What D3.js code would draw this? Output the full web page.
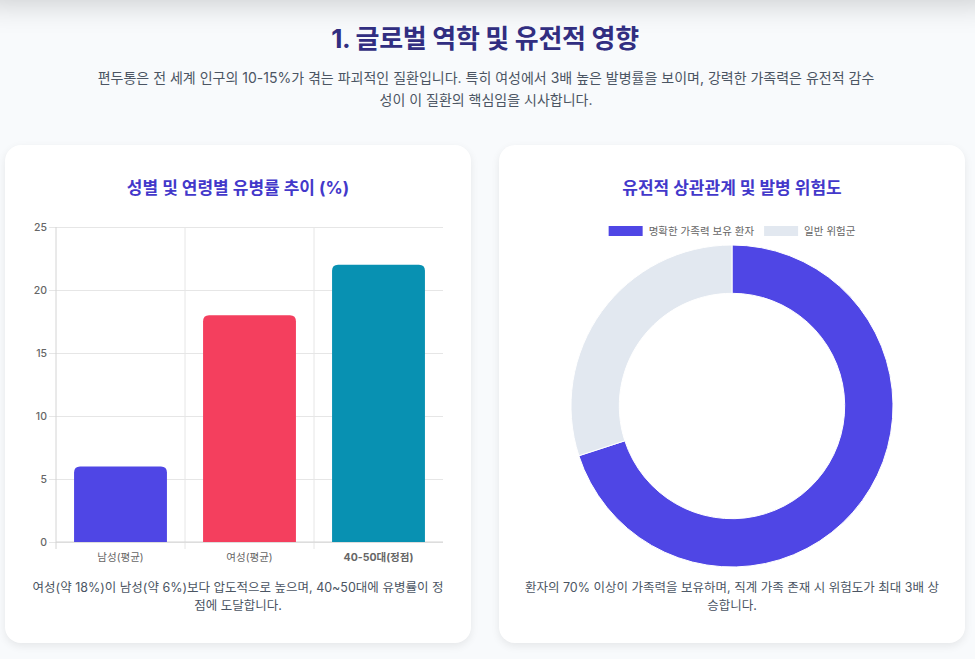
<!DOCTYPE html>
<html lang="ko">
<head>
<meta charset="utf-8">
<script src="https://cdn.jsdelivr.net/npm/d3@7"></script>
<style>
  html, body { margin: 0; padding: 0; }
  body {
    width: 975px; height: 659px; overflow: hidden; position: relative;
    background: #f8fafc;
    font-family: Inter, "Noto Sans CJK KR", "Noto Sans", sans-serif;
  }
  .topbar {
    position: absolute; left: -20px; top: -60px; width: 1015px; height: 60px;
    background: #fff; box-shadow: 0 4px 30px rgba(0,0,0,0.18);
  }
  h1 {
    position: absolute; left: 0; width: 970px; top: 18px; margin: 0;
    text-align: center; font-size: 26px; font-weight: 700; color: #312e81;
    letter-spacing: -0.3px;
  }
  .desc {
    position: absolute; left: 95px; width: 782px; top: 67px; margin: 0;
    text-align: center; font-size: 14px; line-height: 22px; color: #4b5563;
    word-break: break-all;
  }
  .card {
    position: absolute; top: 145px; width: 466px; height: 498px;
    background: #fff; border-radius: 16px;
    box-shadow: 0 3px 8px rgba(0,0,0,0.08);
  }
  .card h2 {
    position: absolute; left: 0; width: 100%; top: 29px; margin: 0;
    text-align: center; font-size: 17px; font-weight: 700; color: #4338ca;
  }
  .card svg { position: absolute; left: 0; top: 0; }
  .card .cap {
    position: absolute; left: 25px; width: 416px; top: 434px; margin: 0;
    text-align: center; font-size: 12.5px; line-height: 18px; color: #4b5563;
    word-break: break-all;
  }
</style>
</head>
<body>
<div class="topbar"></div>
<h1>1. 글로벌 역학 및 유전적 영향</h1>
<p class="desc">편두통은 전 세계 인구의 10-15%가 겪는 파괴적인 질환입니다. 특히 여성에서 3배 높은 발병률을 보이며, 강력한 가족력은 유전적 감수성이 이 질환의 핵심임을 시사합니다.</p>

<div class="card" id="barCard" style="left:5px">
  <h2>성별 및 연령별 유병률 추이 (%)</h2>
  <p class="cap">여성(약 18%)이 남성(약 6%)보다 압도적으로 높으며, 40~50대에 유병률이 정점에 도달합니다.</p>
</div>
<div class="card" id="pieCard" style="left:499px">
  <h2>유전적 상관관계 및 발병 위험도</h2>
  <p class="cap">환자의 70% 이상이 가족력을 보유하며, 직계 가족 존재 시 위험도가 최대 3배 상승합니다.</p>
</div>

<script>
// 막대 차트 데이터
const barLabels = ['남성(평균)', '여성(평균)', '40-50대(정점)'];
const barValues = [6, 18, 22];
const barColors = ['#4f46e5', '#f43f5e', '#0891b2'];
const yTicks = [0, 5, 10, 15, 20, 25];

// 도넛 차트 데이터
const pieLabels = ['명확한 가족력 보유 환자', '일반 위험군'];
const pieValues = [70, 30];
const pieColors = ['#4f46e5', '#e2e8f0'];

const W = 466, H = 498;

// ---- 막대 차트 ----
(function drawBar() {
  const m = { left: 51, right: 28, top: 82, bottom: 101 };
  const svg = d3.select('#barCard').append('svg').attr('width', W).attr('height', H);
  const g = svg.append('g').attr('transform', `translate(${m.left},${m.top})`);
  const iw = W - m.left - m.right, ih = H - m.top - m.bottom;

  const x = d3.scaleBand().domain(barLabels).range([0, iw]).paddingInner(0).paddingOuter(0);
  const y = d3.scaleLinear().domain([0, 25]).range([ih, 0]);

  // 가로 격자 + y축
  const yAxis = d3.axisLeft(y).tickValues(yTicks).tickSize(-iw).tickPadding(9);
  const yG = g.append('g').call(yAxis);
  yG.select('.domain').remove();
  yG.selectAll('.tick line').attr('stroke', '#e6e6e6').attr('x1', -7);
  yG.selectAll('.tick text').attr('fill', '#666').attr('font-size', 10.5).attr('font-weight', 500)
    .attr('font-family', 'Inter, "Noto Sans CJK KR", sans-serif');

  // 세로 격자 (카테고리 경계)
  const edges = barLabels.map(d => x(d));
  g.selectAll('.vgrid').data(edges).enter().append('line')
    .attr('x1', d => d).attr('x2', d => d)
    .attr('y1', 0).attr('y2', ih + 7)
    .attr('stroke', d => d === 0 ? '#d4d4d4' : '#e6e6e6');
  g.append('line').attr('x1', 0).attr('x2', iw).attr('y1', ih).attr('y2', ih).attr('stroke', '#d4d4d4');

  // x축 라벨
  g.selectAll('.xl').data(barLabels).enter().append('text')
    .attr('x', d => x(d) + x.bandwidth() / 2)
    .attr('y', ih + 19)
    .attr('text-anchor', 'middle')
    .attr('fill', '#666').attr('font-size', 10.5)
    .attr('font-weight', (d, i) => i === 2 ? 700 : 400)
    .text(d => d);

  // 막대 (위쪽만 둥근 모서리)
  const bw = x.bandwidth() * 0.72, r = 6;
  g.selectAll('.bar').data(barValues).enter().append('path')
    .attr('fill', (d, i) => barColors[i])
    .attr('d', (d, i) => {
      const x0 = x(barLabels[i]) + (x.bandwidth() - bw) / 2, x1 = x0 + bw;
      const y0 = y(d), yb = y(0);
      return `M${x0},${yb}V${y0 + r}Q${x0},${y0} ${x0 + r},${y0}H${x1 - r}Q${x1},${y0} ${x1},${y0 + r}V${yb}Z`;
    });
})();

// ---- 도넛 차트 ----
(function drawPie() {
  const svg = d3.select('#pieCard').append('svg').attr('width', W).attr('height', H);
  const cx = 233, cy = 261, R = 161;

  const pie = d3.pie().sort(null).value(d => d);
  const arc = d3.arc().innerRadius(R * 0.7).outerRadius(R);
  svg.append('g').attr('transform', `translate(${cx},${cy})`)
    .selectAll('path').data(pie(pieValues)).enter().append('path')
    .attr('d', arc)
    .attr('fill', (d, i) => pieColors[i])
    .attr('stroke', '#fff').attr('stroke-width', 1);

  // 범례
  const legend = svg.append('g').attr('transform', 'translate(0,86)');
  const ctx = document.createElement('canvas').getContext('2d');
  ctx.font = '10.5px Inter, "Noto Sans CJK KR"';
  const boxW = 34, gap = 6, itemGap = 10;
  const widths = pieLabels.map(l => boxW + gap + ctx.measureText(l).width);
  const total = d3.sum(widths) + itemGap * (pieLabels.length - 1);
  let px = cx - total / 2;
  pieLabels.forEach((l, i) => {
    const it = legend.append('g').attr('transform', `translate(${px},0)`);
    it.append('rect').attr('x', 0).attr('y', -5).attr('width', boxW).attr('height', 10).attr('fill', pieColors[i]);
    it.append('text').attr('x', boxW + gap).attr('y', 4).attr('fill', '#666').attr('font-size', 10.5).text(l);
    px += widths[i] + itemGap;
  });
})();
</script>
</body>
</html>
